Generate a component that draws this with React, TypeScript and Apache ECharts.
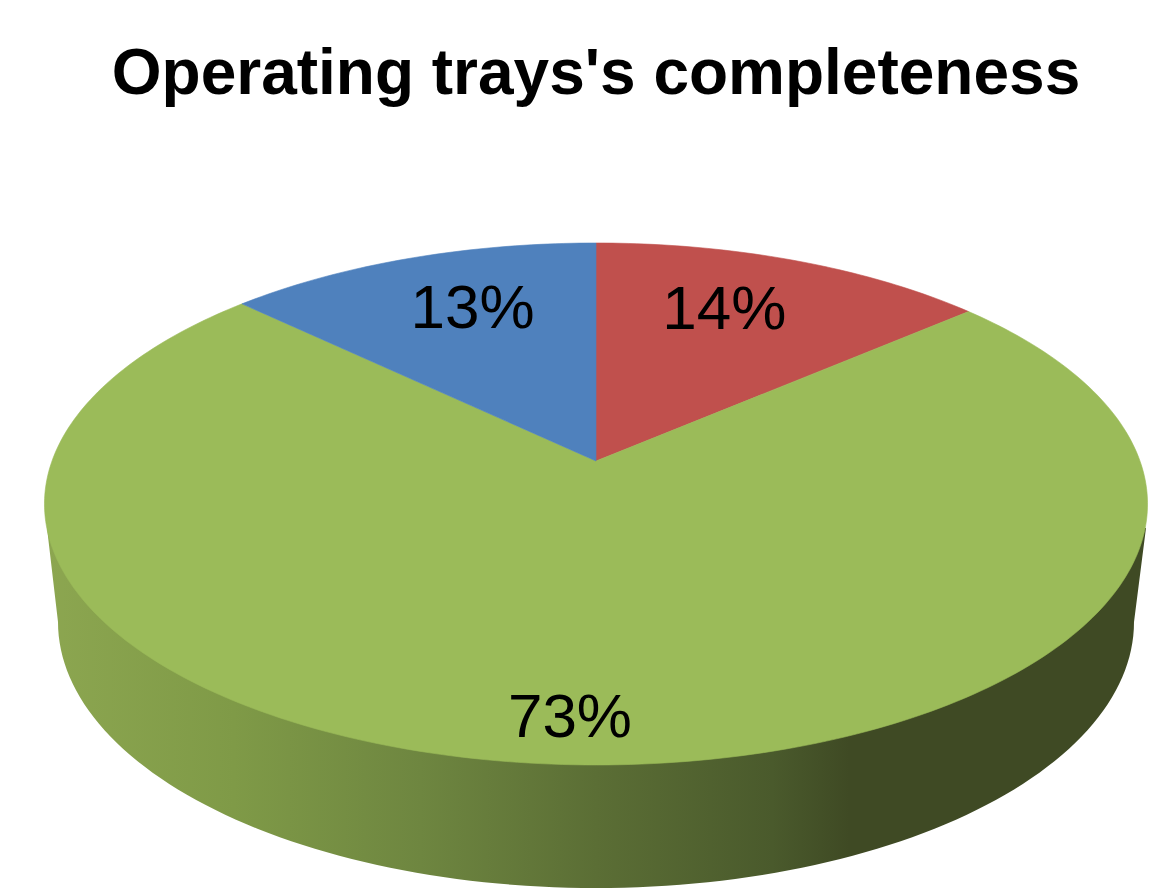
import React, { useEffect, useRef } from "react";
import * as echarts from "echarts";

const titleText = "Operating trays's completeness";
// Slices run clockwise from twelve o'clock; the printed labels are the rounded shares.
const sliceNames = ["Second group", "Main group", "First group"];
const sliceValues = [13.7, 73.4, 12.9];
const sliceColors = ["#C0504D", "#9BBB59", "#4F81BD"];

// Projection of the pie's top face
const CX = 596, CY = 461, A = 544, B = 253.9, K = 0.1647;
const project = (deg: number, r = 1): [number, number] => {
  const t = (deg * Math.PI) / 180;
  const w = 1 + K * r * Math.cos(t);
  return [CX + (A * r * Math.sin(t)) / w, CY - (B * r * Math.cos(t)) / w];
};
// Lower rim of the extruded side
const RIM_CY = 622, RIM_RX = 538, RIM_RY = 266;

const labelRadius = [0.723, 0.86, 0.723];
const labelTurn = [-3.4, 1.3, 2.8];

const total = sliceValues.reduce((a, b) => a + b, 0);
const startAngle = (i: number) =>
  (sliceValues.slice(0, i).reduce((a, b) => a + b, 0) / total) * 360;

function renderSide() {
  const pts: number[][] = [];
  for (let d = 180; d >= 0; d -= 1.5) {
    const t = (d * Math.PI) / 180;
    pts.push([CX + RIM_RX * Math.cos(t), RIM_CY + RIM_RY * Math.sin(t)]);
  }
  pts.push([1146, 528], [CX, 480], [47, 528]);
  return {
    type: "polygon",
    shape: { points: pts },
    style: {
      fill: new echarts.graphic.LinearGradient(0, 0, 1, 0, [
        { offset: 0, color: "#8CA650" },
        { offset: 0.17, color: "#7F9A47" },
        { offset: 0.34, color: "#6E8640" },
        { offset: 0.5, color: "#5B6E35" },
        { offset: 0.66, color: "#4A5A2C" },
        { offset: 0.73, color: "#3F4A24" },
        { offset: 1, color: "#3F4A24" },
      ]),
    },
  };
}

function renderSlice(params: any, api: any) {
  const i = params.dataIndex;
  const value = api.value(0);
  const from = startAngle(i);
  const sweep = (value / total) * 360;
  const pts: number[][] = [[CX, CY]];
  const steps = Math.max(8, Math.ceil(sweep));
  for (let s = 0; s <= steps; s++) pts.push(project(from + (sweep * s) / steps));
  const [lx, ly] = project(from + sweep / 2 + labelTurn[i], labelRadius[i]);
  return {
    type: "group",
    children: [
      {
        type: "polygon",
        shape: { points: pts },
        style: { fill: sliceColors[i], stroke: sliceColors[i], lineWidth: 0.6 },
      },
      {
        type: "text",
        x: lx,
        y: ly,
        z2: 10,
        style: {
          text: `${Math.round((value / total) * 100)}%`,
          fontFamily: "Liberation Sans",
          fontSize: 62,
          fill: "#000000",
          align: "center",
          verticalAlign: "middle",
        },
      },
    ],
  };
}

export default function App() {
  const ref = useRef<HTMLDivElement>(null);
  useEffect(() => {
    if (!ref.current) return;
    const chart = echarts.init(ref.current, undefined, { renderer: "svg" });
    chart.setOption({
      animation: false,
      backgroundColor: "#FFFFFF",
      title: {
        text: titleText,
        left: 591,
        top: 35,
        textAlign: "center",
        textStyle: {
          fontFamily: "Liberation Sans",
          fontWeight: "bold",
          fontSize: 64,
          color: "#000000",
        },
      },
      series: [
        {
          type: "custom",
          coordinateSystem: "none",
          silent: true,
          z: 1,
          data: [sliceValues[1]],
          renderItem: renderSide,
        },
        {
          type: "custom",
          coordinateSystem: "none",
          silent: true,
          z: 2,
          data: sliceValues.map((v, i) => ({ name: sliceNames[i], value: [v] })),
          renderItem: renderSlice,
        },
      ],
    });
    return () => chart.dispose();
  }, []);
  return (
    <div
      ref={ref}
      style={{ position: "absolute", left: 0, top: 0, width: 1172, height: 888 }}
    />
  );
}
